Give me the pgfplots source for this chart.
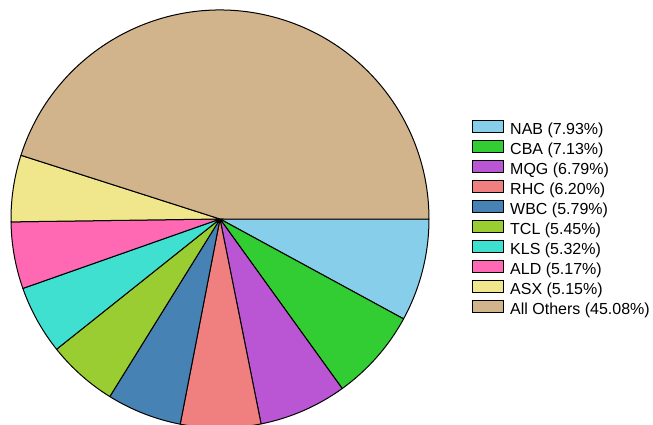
\documentclass[border=0pt]{standalone}
\usepackage{fontspec}
\setmainfont{Liberation Sans}
\usepackage{pgfplots}
\pgfplotsset{compat=1.18}
\usepackage{pgfplotstable}

\definecolor{cNAB}{RGB}{135,206,235}
\definecolor{cCBA}{RGB}{50,205,50}
\definecolor{cMQG}{RGB}{186,85,211}
\definecolor{cRHC}{RGB}{240,128,128}
\definecolor{cWBC}{RGB}{70,130,180}
\definecolor{cTCL}{RGB}{154,205,50}
\definecolor{cKLS}{RGB}{64,224,208}
\definecolor{cALD}{RGB}{255,105,180}
\definecolor{cASX}{RGB}{240,230,140}
\definecolor{cOTH}{RGB}{210,180,140}

% shares in percent, clockwise from 3 o'clock
\pgfplotstableread[col sep=comma]{
name,share,col
NAB,7.93,cNAB
CBA,7.13,cCBA
MQG,6.79,cMQG
RHC,6.20,cRHC
WBC,5.79,cWBC
TCL,5.45,cTCL
KLS,5.32,cKLS
ALD,5.17,cALD
ASX,5.15,cASX
All Others,45.08,cOTH
}\piedata

\begin{document}
\begin{tikzpicture}
\begin{axis}[
    name=ax,
    scale only axis,
    width=653bp, height=425bp,
    xmin=-1.0526, xmax=2.0718,
    ymin=-0.9856, ymax=1.0478,
    hide axis,
    legend image code/.code={\draw[#1, line width=1bp] (0bp,-1.5bp) rectangle (31bp,10.5bp);},
    legend cell align=left,
    legend style={
        at={(axis cs:1.2067,0.4737)}, anchor=north west,
        draw=none, fill=none, inner sep=0pt, outer sep=0pt,
        font=\fontsize{16bp}{19bp}\selectfont,
        row sep=1.5bp, column sep=6bp,
        nodes={inner sep=0pt, text height=11.5bp, text depth=3.5bp},
    },
]
\pgfplotsextra{%
  \gdef\cum{0}%
  \pgfplotstablegetrowsof{\piedata}%
  \pgfmathtruncatemacro\last{\pgfplotsretval-1}%
  \foreach \i in {0,...,\last}{%
    \pgfplotstablegetelem{\i}{share}\of\piedata \let\s\pgfplotsretval
    \pgfplotstablegetelem{\i}{col}\of\piedata \let\c\pgfplotsretval
    \pgfmathsetmacro\a{-3.6*\cum}%
    \pgfmathsetmacro\b{-3.6*(\cum+\s)}%
    \pgfmathparse{\cum+\s}\xdef\cum{\pgfmathresult}%
    \draw[fill=\c, draw=black, line width=1bp, line join=round]
      (axis cs:0,0) -- (axis cs:{cos(\a)},{sin(\a)})
      arc[start angle=\a, end angle=\b, radius=209bp] -- cycle;
  }%
}
\addlegendimage{fill=cNAB, draw=black}\addlegendentry{NAB (7.93\%)}
\addlegendimage{fill=cCBA, draw=black}\addlegendentry{CBA (7.13\%)}
\addlegendimage{fill=cMQG, draw=black}\addlegendentry{MQG (6.79\%)}
\addlegendimage{fill=cRHC, draw=black}\addlegendentry{RHC (6.20\%)}
\addlegendimage{fill=cWBC, draw=black}\addlegendentry{WBC (5.79\%)}
\addlegendimage{fill=cTCL, draw=black}\addlegendentry{TCL (5.45\%)}
\addlegendimage{fill=cKLS, draw=black}\addlegendentry{KLS (5.32\%)}
\addlegendimage{fill=cALD, draw=black}\addlegendentry{ALD (5.17\%)}
\addlegendimage{fill=cASX, draw=black}\addlegendentry{ASX (5.15\%)}
\addlegendimage{fill=cOTH, draw=black}\addlegendentry{All Others (45.08\%)}
\end{axis}
\pgfresetboundingbox
\useasboundingbox (ax.south west) rectangle (ax.north east);
\end{tikzpicture}
\end{document}
